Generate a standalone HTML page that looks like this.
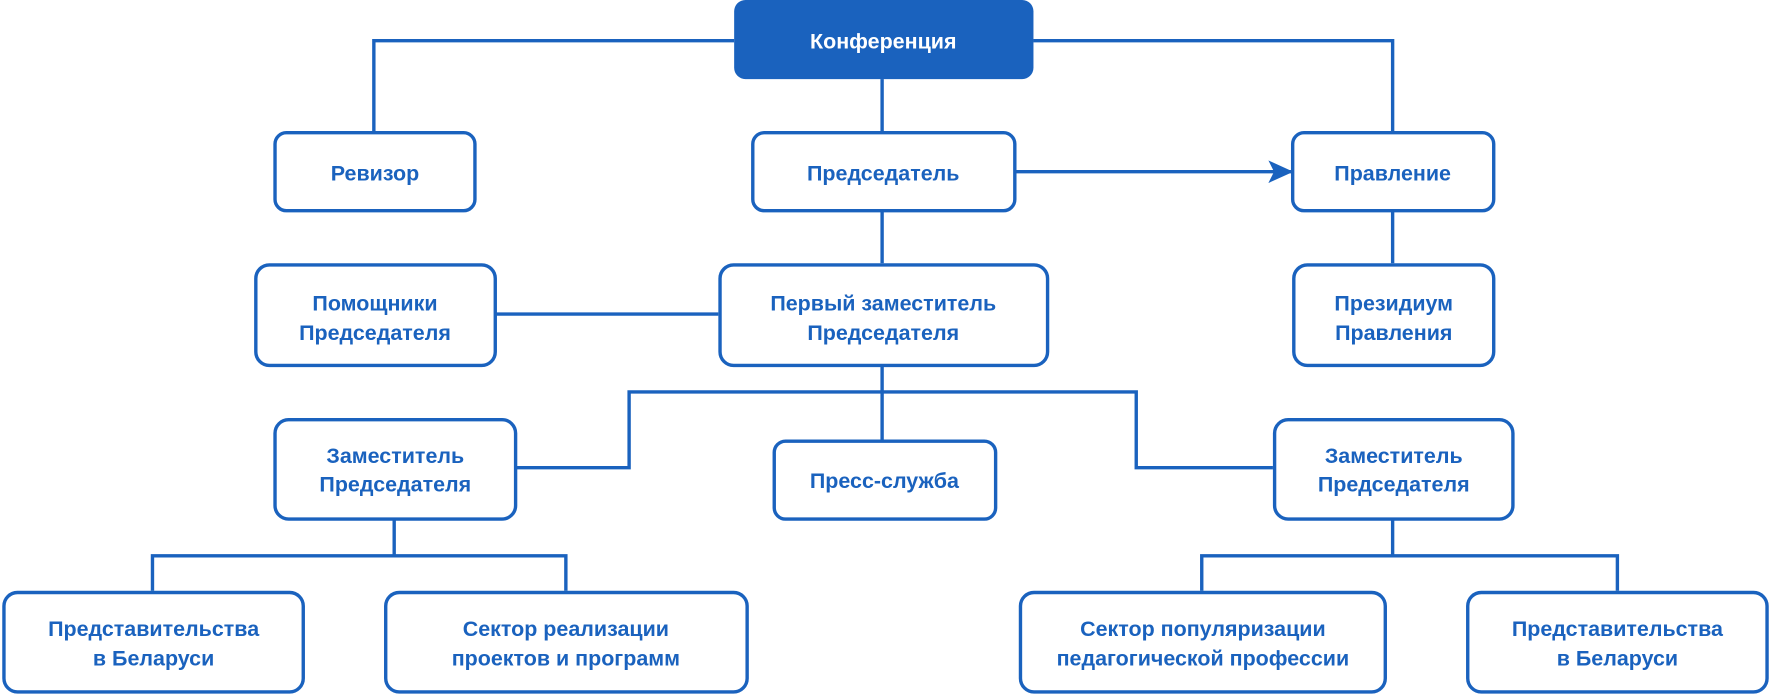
<!DOCTYPE html>
<html><head><meta charset="utf-8"><style>
html,body{margin:0;padding:0;background:#fff;}
svg{display:block}
text{font-family:"Liberation Sans","DejaVu Sans",sans-serif;font-weight:bold;font-size:19px;fill:#1a62be;text-anchor:middle;}
</style></head><body>
<svg width="1771" height="697" viewBox="0 0 1568 617" preserveAspectRatio="none" xmlns="http://www.w3.org/2000/svg">
<defs><marker id="ar" markerWidth="22" markerHeight="20" refX="20" refY="10" orient="auto" markerUnits="userSpaceOnUse"><path d="M0,0 L22,10 L0,20 L5,10 Z" fill="#1a62be"/></marker></defs>
<g fill="none" stroke="#1a62be" stroke-width="3">
<polyline points="650,36 331,36 331,116"/>
<polyline points="915,36 1233,36 1233,116"/>
<line x1="781" y1="70" x2="781" y2="116"/>
<line x1="899" y1="152" x2="1143" y2="152" marker-end="url(#ar)"/>
<line x1="781" y1="187" x2="781" y2="233"/>
<line x1="439" y1="278" x2="636" y2="278"/>
<line x1="1233" y1="187" x2="1233" y2="233"/>
<line x1="781" y1="324" x2="781" y2="389"/>
<polyline points="457,414 557,414 557,347 1006,347 1006,414 1127,414"/>
<polyline points="349,460 349,492"/>
<polyline points="135,523 135,492 501,492 501,523"/>
<polyline points="1233,460 1233,492"/>
<polyline points="1064,523 1064,492 1432,492 1432,523"/>
</g>
<rect x="650" y="0" width="265" height="70" rx="10" fill="#1a62be"/>
<text x="782" y="43" style="fill:#fff">Конференция</text>
<g fill="#fff" stroke="#1a62be" stroke-width="3">
<rect x="243.5" y="117.5" width="177" height="69" rx="10"/>
<rect x="666.5" y="117.5" width="232" height="69" rx="10"/>
<rect x="1144.5" y="117.5" width="178" height="69" rx="10"/>
<rect x="226.5" y="234.5" width="212" height="89" rx="12"/>
<rect x="637.5" y="234.5" width="290" height="89" rx="12"/>
<rect x="1145.5" y="234.5" width="177" height="89" rx="12"/>
<rect x="243.5" y="371.5" width="213" height="88" rx="12"/>
<rect x="685.5" y="390.5" width="196" height="69" rx="10"/>
<rect x="1128.5" y="371.5" width="211" height="88" rx="12"/>
<rect x="3.5" y="524.5" width="265" height="88" rx="12"/>
<rect x="341.5" y="524.5" width="320" height="88" rx="12"/>
<rect x="903.5" y="524.5" width="323" height="88" rx="12"/>
<rect x="1299.5" y="524.5" width="265" height="88" rx="12"/>
</g>
<text x="332" y="160">Ревизор</text>
<text x="782" y="160">Председатель</text>
<text x="1233" y="160">Правление</text>
<text x="332" y="275">Помощники</text><text x="332" y="301">Председателя</text>
<text x="782" y="275">Первый заместитель</text><text x="782" y="301">Председателя</text>
<text x="1234" y="275">Президиум</text><text x="1234" y="301">Правления</text>
<text x="350" y="410">Заместитель</text><text x="350" y="435">Председателя</text>
<text x="783" y="432">Пресс-служба</text>
<text x="1234" y="410">Заместитель</text><text x="1234" y="435">Председателя</text>
<text x="136" y="563">Представительства</text><text x="136" y="589">в Беларуси</text>
<text x="501" y="563">Сектор реализации</text><text x="501" y="589">проектов и программ</text>
<text x="1065" y="563">Сектор популяризации</text><text x="1065" y="589">педагогической профессии</text>
<text x="1432" y="563">Представительства</text><text x="1432" y="589">в Беларуси</text>
</svg>
</body></html>
